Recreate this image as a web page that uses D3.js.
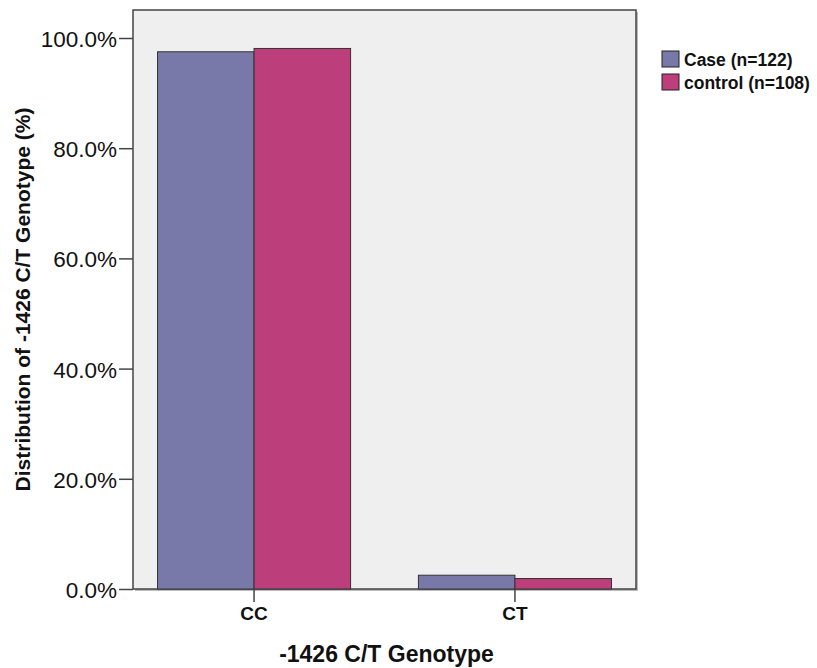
<!DOCTYPE html>
<html><head><meta charset="utf-8">
<script src="https://cdn.jsdelivr.net/npm/d3@7"></script>
<style>body{margin:0;background:#fff;} text{font-family:"Liberation Sans",Arial,sans-serif;fill:#111;}</style>
</head><body>
<svg id="c" width="817" height="668"></svg>
<script>
const categories = ["CC", "CT"];
const seriesNames = ["Case (n=122)", "control (n=108)"];
const caseValues = [97.5, 2.5];
const controlValues = [98.1, 1.9];
const yTicks = [0, 20, 40, 60, 80, 100];
const colors = ["#7879A8", "#BC3F7C"];

const svg = d3.select("#c");
const L = 133, R = 636, T = 10, B = 589;
const y = d3.scaleLinear().domain([0, 100]).range([B, 38]);
const x0 = d3.scaleBand().domain(categories).range([L, R]).paddingInner(0.26).paddingOuter(0.094);
const x1 = d3.scaleBand().domain(seriesNames).range([0, x0.bandwidth()]);

svg.append("rect").attr("x", L+2).attr("y", T+2).attr("width", R-L).attr("height", B-T).attr("fill", "#bbb");
svg.append("rect").attr("x", L).attr("y", T).attr("width", R-L).attr("height", B-T)
  .attr("fill", "#EFEFEF").attr("stroke", "#444").attr("stroke-width", 1.5);

const data = categories.map((c, i) => ({cat: c, vals: [caseValues[i], controlValues[i]]}));
const g = svg.append("g");
data.forEach(d => {
  d.vals.forEach((v, j) => {
    g.append("rect").attr("x", x0(d.cat) + x1(seriesNames[j])).attr("y", y(v))
      .attr("width", x1.bandwidth()).attr("height", B - y(v))
      .attr("fill", colors[j]).attr("stroke", "#333").attr("stroke-width", 1);
  });
});

const yAxis = svg.append("g").attr("transform", `translate(${L},0)`)
  .call(d3.axisLeft(y).tickValues(yTicks).tickSize(14).tickPadding(2).tickFormat(d => d3.format(".1f")(d) + "%"));
yAxis.select(".domain").remove();
yAxis.selectAll("line").attr("stroke", "#444").attr("stroke-width", 1.5);
yAxis.selectAll("text").attr("font-size", 22.5).attr("fill", "#111").attr("dy", "0.38em");

const xAxis = svg.append("g").attr("transform", `translate(0,${B})`)
  .call(d3.axisBottom(x0).tickSize(13).tickPadding(5));
xAxis.select(".domain").remove();
xAxis.selectAll("line").attr("stroke", "#444").attr("stroke-width", 1.5);
xAxis.selectAll("text").attr("font-size", 19).attr("font-weight", "bold").attr("fill", "#111");

svg.append("text").attr("x", (L+R)/2 + 2).attr("y", 662).attr("text-anchor", "middle")
  .attr("font-size", 23).attr("font-weight", "bold").text("-1426 C/T Genotype");
svg.append("text").attr("transform", `translate(30,${(T+B)/2}) rotate(-90)`).attr("text-anchor", "middle")
  .attr("font-size", 21).attr("font-weight", "bold").text("Distribution of -1426 C/T Genotype (%)");

const leg = svg.append("g");
seriesNames.forEach((s, i) => {
  leg.append("rect").attr("x", 662).attr("y", 51 + i*23).attr("width", 17).attr("height", 16)
    .attr("fill", colors[i]).attr("stroke", "#222").attr("stroke-width", 1);
  leg.append("text").attr("x", 684).attr("y", 66 + i*23).attr("font-size", 17.5).attr("font-weight", "bold").text(s);
});
</script>
</body></html>
